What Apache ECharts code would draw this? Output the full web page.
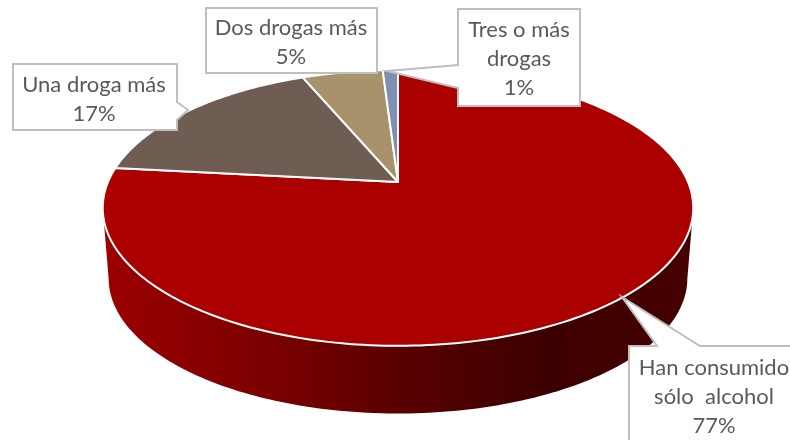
<!DOCTYPE html>
<html>
<head>
<meta charset="utf-8">
<style>
  html, body { margin: 0; padding: 0; background: #fff; }
  #chart { width: 790px; height: 440px; }
</style>
</head>
<body>
<div id="chart"></div>
<script src="https://cdn.jsdelivr.net/npm/echarts@6/dist/echarts.min.js"></script>
<script>
// datos (la etiqueta muestra el valor redondeado)
const categories = ['Han consumido\nsólo  alcohol', 'Una droga más', 'Dos drogas más', 'Tres o más\ndrogas']
const values = [76.7, 17.0, 5.3, 1.0]
const sliceColors = ['#AA0000', '#6F5D53', '#A8926C', '#7F8FAF']

// tarta inclinada: un disco visto en perspectiva
const cx = 398, apexY = 182
const radX = 290, radY = 133, persp = 0.188
const depthY = 71, depthScale = 0.98

// cajas de las etiquetas, con su flecha (mismo orden que categories)
const callouts = [
  { x: 714, y: 397, points: [[629, 346], [657, 346], [622, 297], [700, 346], [800, 346], [800, 450], [629, 450]] },
  { x: 94, y: 99, points: [[13, 64], [177, 64], [177, 102], [188, 110], [177, 120], [177, 130], [13, 130]] },
  { x: 291, y: 42, points: [[206, 8], [377, 8], [377, 73], [206, 73]] },
  { x: 519, y: 59, points: [[458, 9], [580, 9], [580, 106], [458, 106], [458, 88], [387, 71], [458, 65]] }
]

const total = values.reduce((a, b) => a + b, 0)

// proyecta el angulo (horario desde arriba) sobre el borde del disco
function rim(angle, scale, offsetY) {
  const u = Math.sin(angle), v = Math.cos(angle)
  const d = 1 + persp * v
  return [cx + scale * radX * u / d, apexY + offsetY - scale * radY * v / d]
}

function rimPoints(start, end, scale, offsetY) {
  const n = Math.max(2, Math.ceil((end - start) / 0.02))
  let pts = []
  for (let i = 0; i <= n; i++) {
    pts.push(rim(start + (end - start) * i / n, scale, offsetY))
  }
  return pts
}

function sliceRange(index) {
  let before = 0
  for (let i = 0; i < index; i++) before += values[i]
  return [before / total * Math.PI * 2, (before + values[index]) / total * Math.PI * 2]
}

const sideFill = new echarts.graphic.LinearGradient(0, 0, 1, 0, [
  { offset: 0, color: '#9C0000' },
  { offset: 0.3, color: '#780000' },
  { offset: 0.5, color: '#5A0000' },
  { offset: 0.75, color: '#3C0000' },
  { offset: 1, color: '#460000' }
])

// solo la parte delantera del borde se ve: entre los dos extremos de la elipse
const nearStart = Math.acos(-persp)
const nearEnd = Math.PI * 2 - nearStart

function renderSide(params) {
  const range = sliceRange(params.dataIndex)
  const start = Math.max(range[0], nearStart)
  const end = Math.min(range[1], nearEnd)
  if (end <= start) return null
  const top = rimPoints(start, end, 1, 0)
  const bottom = rimPoints(start, end, depthScale, depthY).reverse()
  return {
    type: 'polygon',
    shape: { points: top.concat(bottom) },
    style: { fill: sideFill }
  }
}

function renderTop(params) {
  const range = sliceRange(params.dataIndex)
  const pts = [[cx, apexY]].concat(rimPoints(range[0], range[1], 1, 0))
  return {
    type: 'polygon',
    shape: { points: pts },
    style: { fill: sliceColors[params.dataIndex], stroke: '#fff', lineWidth: 2, lineJoin: 'round' }
  }
}

function renderLabel(params) {
  const i = params.dataIndex
  const box = callouts[i]
  return {
    type: 'group',
    children: [
      {
        type: 'polygon',
        shape: { points: box.points },
        style: { fill: '#fff', stroke: '#BFBFBF', lineWidth: 2 }
      },
      {
        type: 'text',
        style: {
          text: categories[i] + '\n' + Math.round(values[i]) + '%',
          x: box.x,
          y: box.y,
          align: 'center',
          verticalAlign: 'middle',
          font: '22px Lato',
          lineHeight: 29,
          fill: '#595959'
        }
      }
    ]
  }
}

const chart = echarts.init(document.getElementById('chart'), null, { renderer: 'canvas' })
chart.setOption({
  animation: false,
  backgroundColor: '#fff',
  series: [
    { type: 'custom', coordinateSystem: 'none', silent: true, z: 1, renderItem: renderSide, data: values },
    { type: 'custom', coordinateSystem: 'none', silent: true, z: 2, renderItem: renderTop, data: values },
    { type: 'custom', coordinateSystem: 'none', silent: true, z: 3, renderItem: renderLabel, data: values }
  ]
})
</script>
</body>
</html>
